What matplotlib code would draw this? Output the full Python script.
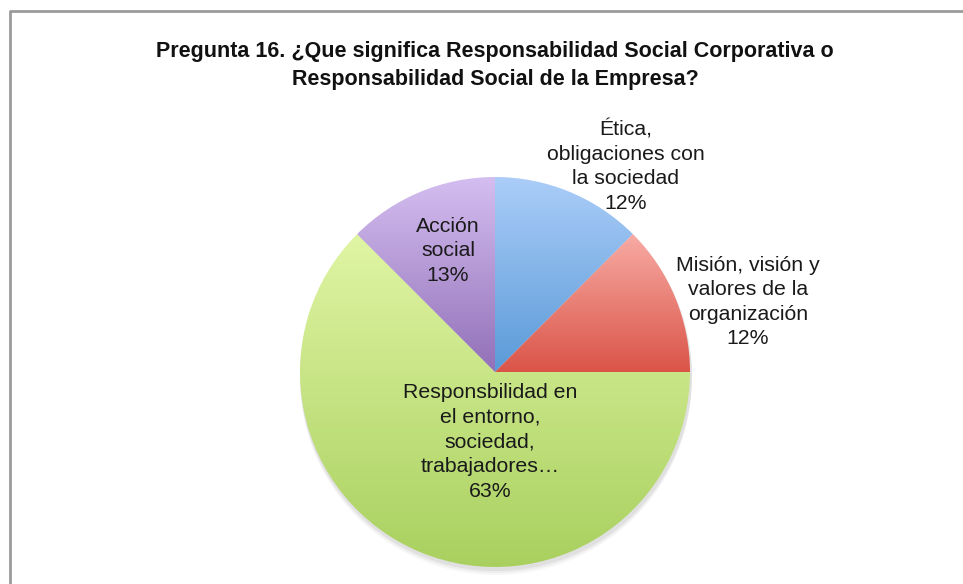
"""Pie chart: Pregunta 16 - meaning of corporate social responsibility."""
import matplotlib.pyplot as plt
import numpy as np
from matplotlib.colors import LinearSegmentedColormap

plt.rcParams["font.family"] = ["Liberation Sans", "DejaVu Sans"]

title = ("Pregunta 16. ¿Que significa Responsabilidad Social Corporativa o\n"
         "Responsabilidad Social de la Empresa?")
categories = [
    "Ética,\nobligaciones con\nla sociedad",
    "Misión, visión y\nvalores de la\norganización",
    "Responsbilidad en\nel entorno,\nsociedad,\ntrabajadores…",
    "Acción\nsocial",
]
shares = [12.5, 12.5, 62.5, 12.5]
pct_labels = ["12%", "12%", "63%", "13%"]

# gradient colours (top -> bottom) for each slice
top_colors = ["#abcdf8", "#f7aba4", "#e0f5a4", "#d4bef0"]
bottom_colors = ["#5a9ad8", "#db5448", "#a9d05f", "#9270b8"]

W, H = 963, 584
CX, CY, R = 495, H - 372, 195
# label centres in pixels (x, y from top)
label_xy = [(626, 166), (748, 302), (490, 442), (448, 251)]


def main():
    fig = plt.figure(figsize=(W / 100, H / 100), dpi=100)
    ax = fig.add_axes([0, 0, 1, 1])
    ax.set_xlim(0, W)
    ax.set_ylim(0, H)
    ax.set_aspect("equal")
    ax.axis("off")

    # frame (left + top edges only)
    ax.plot([10, 10, W], [0, H - 11, H - 11], color="#9a9a9a", lw=2, solid_capstyle="butt")

    # soft shadow under the pie
    for k, a in [(7, 0.03), (5, 0.04), (3, 0.05)]:
        ax.add_patch(plt.Circle((CX + 1, CY - k), R + 1, color="black", alpha=a, lw=0, zorder=1))

    wedges, _ = ax.pie(shares, startangle=90, counterclock=False, center=(CX, CY),
                       radius=R, frame=True, wedgeprops=dict(lw=0))
    ax.set_xlim(0, W)
    ax.set_ylim(0, H)
    ax.axis("off")

    grad = np.linspace(0, 1, 256).reshape(-1, 1)
    for w, c0, c1 in zip(wedges, top_colors, bottom_colors):
        w.set_facecolor("none")
        w.set_zorder(2)
        bb = w.get_path().get_extents(w.get_patch_transform())
        cmap = LinearSegmentedColormap.from_list("g", [c0, c1])
        im = ax.imshow(grad, cmap=cmap, aspect="auto", origin="upper",
                       extent=(bb.x0, bb.x1, bb.y0, bb.y1), zorder=2, interpolation="bilinear")
        im.set_clip_path(w)

    ax.set_xlim(0, W)
    ax.set_ylim(0, H)

    for name, pct, (x, y) in zip(categories, pct_labels, label_xy):
        ax.text(x, H - y, f"{name}\n{pct}", ha="center", va="center", fontsize=15.3,
                color="#1a1a1a", linespacing=1.37, zorder=5)

    ax.text(495, H - 65.5, title, ha="center", va="center", fontsize=15.5,
            fontweight="bold", color="#111111", linespacing=1.4)

    fig.savefig("out.png", dpi=100)


if __name__ == "__main__":
    main()
